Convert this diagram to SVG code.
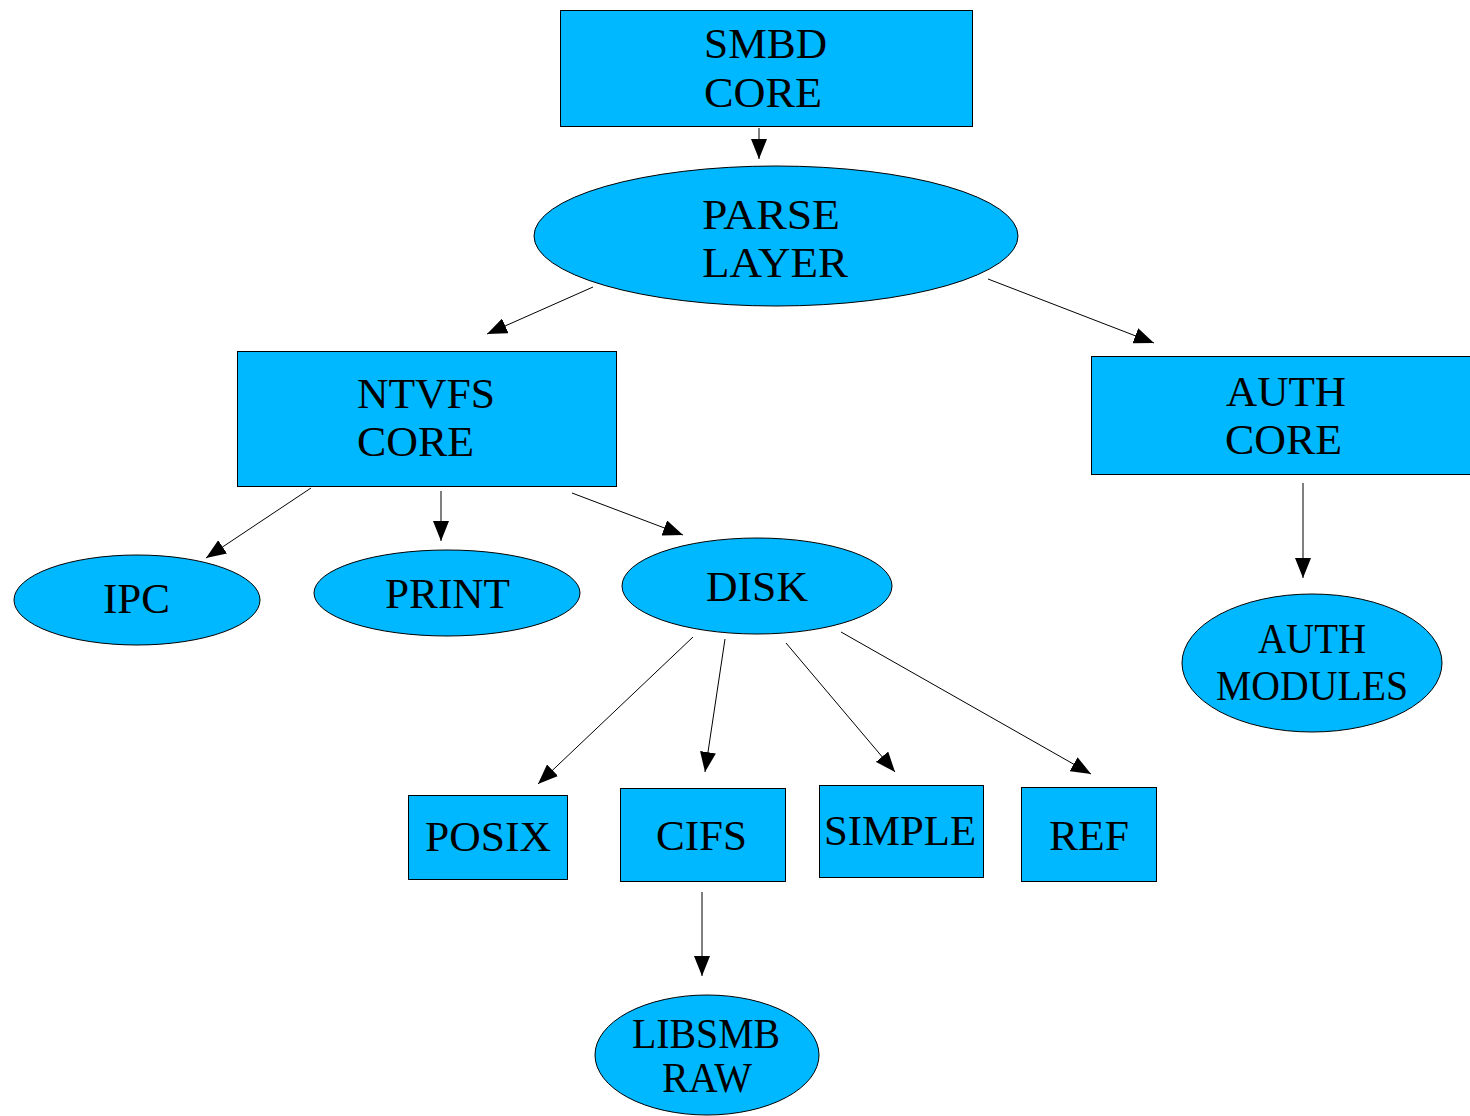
<svg xmlns="http://www.w3.org/2000/svg" width="1470" height="1116" viewBox="0 0 1470 1116">
<defs>
<marker id="ah" viewBox="0 0 20 16" refX="20" refY="8" markerWidth="20" markerHeight="16" markerUnits="userSpaceOnUse" orient="auto">
<path d="M0,0 L20,8 L0,16 z" fill="#000"/>
</marker>
<style>
.n{fill:#00B8FF;stroke:#000;stroke-width:1}
.t{font-family:"Liberation Serif","Times New Roman",serif;font-size:43px;fill:#000}
.e{stroke:#000;stroke-width:1;fill:none;marker-end:url(#ah)}
</style>
</defs>
<rect width="1470" height="1116" fill="#fff"/>
<g id="connectors">
<line class="e" x1="759" y1="128" x2="759" y2="159"/>
<line class="e" x1="593" y1="287" x2="487" y2="334"/>
<line class="e" x1="988" y1="279" x2="1154" y2="343"/>
<line class="e" x1="1303" y1="483" x2="1303" y2="578"/>
<line class="e" x1="311" y1="488" x2="206" y2="558"/>
<line class="e" x1="441" y1="491" x2="441" y2="541"/>
<line class="e" x1="572" y1="493" x2="683" y2="535"/>
<line class="e" x1="693" y1="637" x2="538" y2="784"/>
<line class="e" x1="725" y1="639" x2="705" y2="772"/>
<line class="e" x1="786" y1="643" x2="895" y2="772"/>
<line class="e" x1="841" y1="632" x2="1091" y2="774"/>
<line class="e" x1="702" y1="892" x2="702" y2="976"/>
</g>
<g id="smbd-core">
<rect class="n" x="560.5" y="10.5" width="412" height="116"/>
<text class="t" x="704" y="58" textLength="123" lengthAdjust="spacingAndGlyphs">SMBD</text>
<text class="t" x="704" y="107" textLength="118" lengthAdjust="spacingAndGlyphs">CORE</text>
</g>
<g id="parse-layer">
<ellipse class="n" cx="776" cy="236" rx="242" ry="70"/>
<text class="t" x="702" y="229" textLength="138" lengthAdjust="spacingAndGlyphs">PARSE</text>
<text class="t" x="702" y="277" textLength="146" lengthAdjust="spacingAndGlyphs">LAYER</text>
</g>
<g id="ntvfs-core">
<rect class="n" x="237.5" y="351.5" width="379" height="135"/>
<text class="t" x="357" y="408" textLength="138" lengthAdjust="spacingAndGlyphs">NTVFS</text>
<text class="t" x="357" y="456" textLength="117" lengthAdjust="spacingAndGlyphs">CORE</text>
</g>
<g id="auth-core">
<rect class="n" x="1091.5" y="356.5" width="379" height="118"/>
<text class="t" x="1226" y="406" textLength="120" lengthAdjust="spacingAndGlyphs">AUTH</text>
<text class="t" x="1225" y="454" textLength="117" lengthAdjust="spacingAndGlyphs">CORE</text>
</g>
<g id="auth-modules">
<ellipse class="n" cx="1312" cy="663" rx="130" ry="69"/>
<text class="t" x="1258" y="653" textLength="108" lengthAdjust="spacingAndGlyphs">AUTH</text>
<text class="t" x="1216" y="700" textLength="192" lengthAdjust="spacingAndGlyphs">MODULES</text>
</g>
<g id="ipc">
<ellipse class="n" cx="137" cy="600" rx="123" ry="45"/>
<text class="t" x="103" y="613" textLength="67" lengthAdjust="spacingAndGlyphs">IPC</text>
</g>
<g id="print">
<ellipse class="n" cx="447" cy="593" rx="133" ry="43"/>
<text class="t" x="385" y="608" textLength="125" lengthAdjust="spacingAndGlyphs">PRINT</text>
</g>
<g id="disk">
<ellipse class="n" cx="757" cy="586" rx="135" ry="48"/>
<text class="t" x="706" y="601" textLength="102" lengthAdjust="spacingAndGlyphs">DISK</text>
</g>
<g id="posix">
<rect class="n" x="408.5" y="795.5" width="159" height="84"/>
<text class="t" x="425" y="851" textLength="126" lengthAdjust="spacingAndGlyphs">POSIX</text>
</g>
<g id="cifs">
<rect class="n" x="620.5" y="788.5" width="165" height="93"/>
<text class="t" x="656" y="850" textLength="91" lengthAdjust="spacingAndGlyphs">CIFS</text>
</g>
<g id="simple">
<rect class="n" x="819.5" y="785.5" width="164" height="92"/>
<text class="t" x="824" y="845" textLength="152" lengthAdjust="spacingAndGlyphs">SIMPLE</text>
</g>
<g id="ref">
<rect class="n" x="1021.5" y="787.5" width="135" height="94"/>
<text class="t" x="1049" y="850" textLength="80" lengthAdjust="spacingAndGlyphs">REF</text>
</g>
<g id="libsmb-raw">
<ellipse class="n" cx="707" cy="1055" rx="112" ry="60"/>
<text class="t" x="632" y="1048" textLength="148" lengthAdjust="spacingAndGlyphs">LIBSMB</text>
<text class="t" x="662" y="1092" textLength="90" lengthAdjust="spacingAndGlyphs">RAW</text>
</g>
</svg>
